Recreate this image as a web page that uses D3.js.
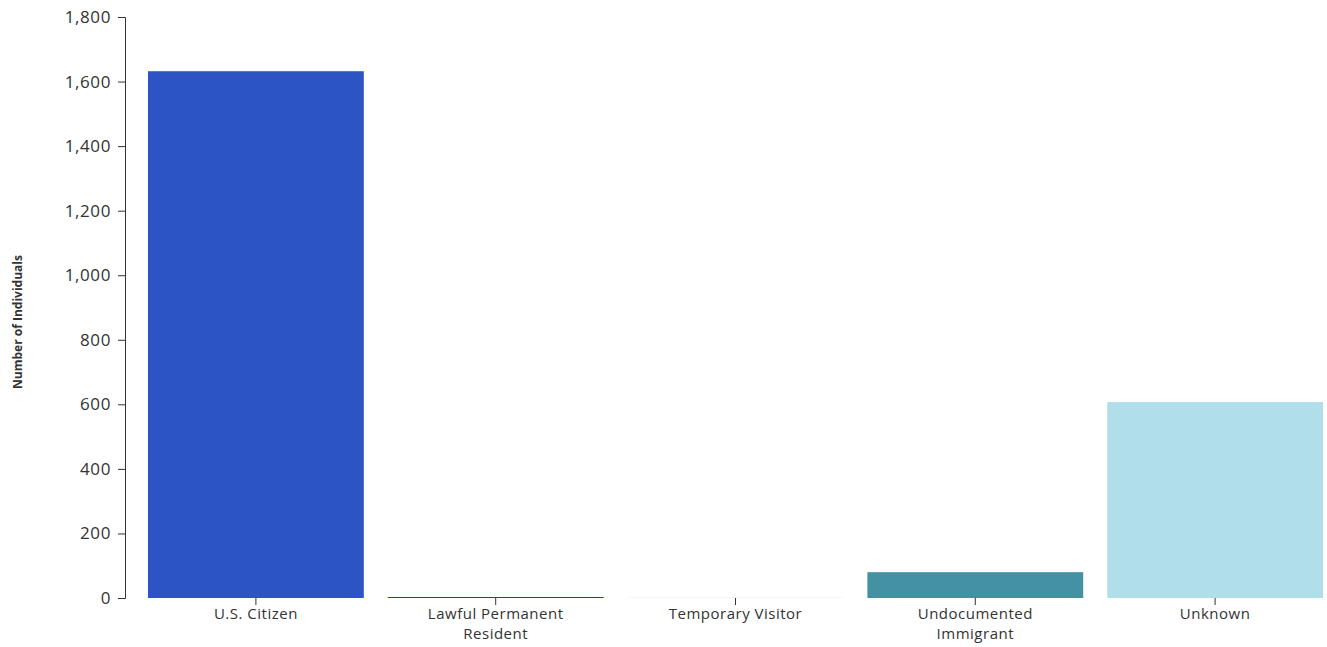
<!DOCTYPE html>
<html>
<head>
<meta charset="utf-8">
<script src="https://cdn.jsdelivr.net/npm/d3@7"></script>
<style>
  body { margin: 0; background: #fff; }
  text { font-family: "Open Sans", "Noto Sans", sans-serif; fill: #333; }
</style>
</head>
<body>
<div id="barplot"></div>
<script>
// Data
const categories = ["U.S. Citizen", "Lawful Permanent Resident", "Temporary Visitor", "Undocumented Immigrant", "Unknown"];
const counts = [1632, 3, 1, 80, 607];
const barColors = ["#2c54c4", "#1d3f73", "#e4e6e8", "#4391a3", "#b1dfe9"];
const yTicks = [0, 200, 400, 600, 800, 1000, 1200, 1400, 1600, 1800];

const data = categories.map((c, i) => ({ status: c, count: counts[i], color: barColors[i] }));

// Dimensions
const width = 1327, height = 647;
const margin = { top: 17, right: 0, bottom: 49, left: 125 };
const plotH = height - margin.top - margin.bottom;

const svg = d3.select("#barplot")
    .append("svg")
    .attr("width", width)
    .attr("height", height);

const g = svg.append("g")
    .attr("transform", `translate(0,${margin.top})`);

// X scale (band)
const x = d3.scaleBand()
    .domain(categories)
    .range([124, 1347])
    .padding(0.1);

// Y scale
const y = d3.scaleLinear()
    .domain([0, 1800])
    .range([plotH, 0]);

// Bars
g.selectAll(".bar")
    .data(data)
    .enter()
    .append("rect")
    .attr("class", "bar")
    .attr("x", d => x(d.status))
    .attr("y", d => y(d.count))
    .attr("width", x.bandwidth())
    .attr("height", d => plotH - y(d.count))
    .attr("fill", d => d.color);

// Y axis
const yAxis = g.append("g")
    .attr("transform", `translate(${margin.left},0)`)
    .call(d3.axisLeft(y).tickValues(yTicks).tickFormat(d3.format(",")).tickSize(7));
yAxis.selectAll("text").style("font-size", "17px").style("letter-spacing", "0.6px").attr("x", -14);
yAxis.selectAll("line, path").attr("stroke", "#333");

// X axis, ticks only
const xAxis = g.append("g")
    .attr("transform", `translate(0,${plotH})`)
    .call(d3.axisBottom(x).tickSize(7).tickSizeOuter(0));
xAxis.select(".domain").remove();
xAxis.selectAll("line").attr("stroke", "#333");
xAxis.selectAll("text")
    .style("font-size", "15px")
    .style("letter-spacing", "0.5px")
    .attr("y", 10)
    .call(wrap, x.bandwidth());

// wrap long labels to the bar width
function wrap(texts, w) {
    texts.each(function() {
        const text = d3.select(this);
        const words = text.text().split(/\s+/);
        const yy = text.attr("y");
        const dy = parseFloat(text.attr("dy"));
        let line = [];
        let lineNo = 0;
        let tspan = text.text(null).append("tspan").attr("x", 0).attr("y", yy).attr("dy", dy + "em");
        words.forEach(word => {
            line.push(word);
            tspan.text(line.join(" "));
            if (tspan.node().getComputedTextLength() > w - 20 && line.length > 1) {
                line.pop();
                tspan.text(line.join(" "));
                line = [word];
                lineNo++;
                tspan = text.append("tspan").attr("x", 0).attr("y", yy)
                    .attr("dy", (lineNo * 1.38 + dy) + "em").text(word);
            }
        });
    });
}

// Y axis label
svg.append("text")
    .attr("transform", "rotate(-90)")
    .attr("x", -322)
    .attr("y", 22)
    .style("text-anchor", "middle")
    .style("font-size", "12px")
    .style("font-weight", "bold")
    .text("Number of Individuals");
</script>
</body>
</html>
